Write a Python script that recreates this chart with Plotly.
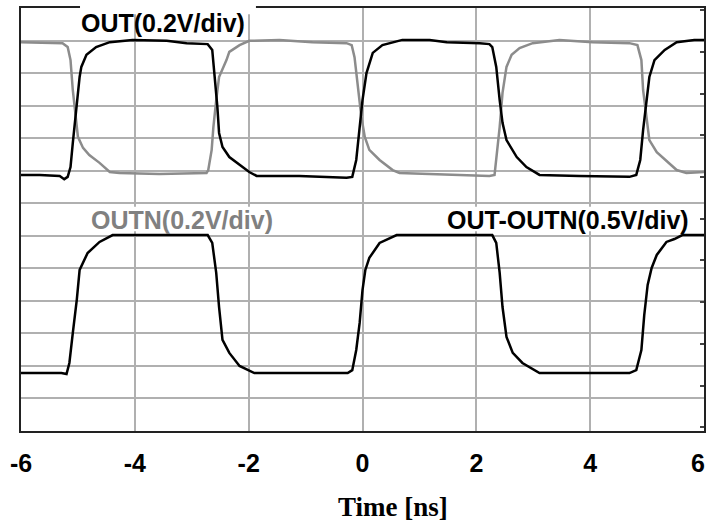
import plotly.graph_objects as go

# Time axis in ns, vertical position in screen divisions (0 = bottom edge, 13 = top edge)

# OUT (upper trace, black)
out_t = [-6.0, -5.67, -5.32, -5.24, -5.18, -5.13, -5.09, -5.04, -5.00, -4.97, -4.94, -4.85,
         -4.68, -4.44, -4.04, -3.44, -3.09, -2.72, -2.64, -2.58, -2.55, -2.52, -2.46, -2.34,
         -2.16, -1.99, -1.86, -1.11, -0.28, -0.18, -0.11, -0.05, 0.00, 0.07, 0.18, 0.35,
         0.70, 1.18, 1.48, 2.06, 2.23, 2.28, 2.35, 2.41, 2.46, 2.53, 2.71, 2.88, 3.11,
         3.81, 4.69, 4.81, 4.88, 4.93, 4.99, 5.04, 5.13, 5.31, 5.52, 5.83, 6.0]
out_v = [7.87, 7.87, 7.84, 7.74, 7.81, 8.11, 8.85, 9.77, 10.33, 10.88, 11.19, 11.56,
         11.80, 11.95, 12.02, 11.99, 11.92, 11.89, 11.71, 10.69, 9.96, 9.16, 8.73, 8.42,
         8.17, 7.96, 7.84, 7.84, 7.78, 7.81, 8.33, 9.34, 10.17, 11.00, 11.62, 11.86,
         12.02, 12.02, 11.95, 11.92, 11.89, 11.80, 11.19, 10.17, 9.47, 8.94, 8.42, 8.11, 7.87,
         7.84, 7.81, 7.87, 8.33, 9.25, 10.17, 10.88, 11.40, 11.71, 11.95, 12.02, 12.02]

# OUTN (upper trace, grey)
outn_t = [-6.0, -5.27, -5.18, -5.13, -5.09, -5.04, -5.00, -4.91, -4.80, -4.62, -4.44, -4.27,
          -3.57, -2.74, -2.71, -2.65, -2.62, -2.57, -2.52, -2.39, -2.34, -2.16, -1.99, -1.46,
          -0.88, -0.28, -0.19, -0.14, -0.09, -0.02, 0.04, 0.12, 0.30, 0.53, 0.65, 1.35,
          2.06, 2.23, 2.32, 2.35, 2.41, 2.46, 2.53, 2.62, 2.76, 2.99, 3.46, 4.04, 4.69,
          4.83, 4.90, 4.93, 4.99, 5.04, 5.17, 5.34, 5.52, 5.69, 6.0]
outn_v = [11.95, 11.92, 11.80, 11.40, 10.48, 9.56, 9.04, 8.70, 8.48, 8.24, 7.96, 7.93,
          7.90, 7.93, 8.02, 8.64, 9.34, 10.17, 10.88, 11.40, 11.65, 11.86, 11.99, 12.02,
          11.95, 11.92, 11.86, 11.49, 10.69, 9.65, 9.04, 8.64, 8.33, 8.02, 7.93, 7.90,
          7.87, 7.84, 7.87, 8.33, 9.34, 10.39, 11.19, 11.56, 11.77, 11.92, 12.02, 11.95, 11.92,
          11.86, 11.40, 10.48, 9.71, 8.94, 8.57, 8.30, 8.02, 7.93, 7.96]

# OUT-OUTN (lower trace, black)
diff_t = [-6.0, -5.29, -5.20, -5.15, -5.09, -5.02, -4.97, -4.91, -4.83, -4.62, -4.39, -3.57,
          -2.72, -2.64, -2.57, -2.52, -2.46, -2.34, -2.16, -1.90, -1.11, -0.26, -0.18, -0.11,
          -0.05, 0.00, 0.05, 0.12, 0.30, 0.60, 1.70, 2.28, 2.35, 2.41, 2.46, 2.53, 2.64,
          2.81, 3.11, 4.69, 4.81, 4.90, 4.95, 5.01, 5.08, 5.17, 5.34, 5.48, 5.62, 6.0]
diff_v = [1.78, 1.78, 1.75, 2.09, 3.01, 4.03, 4.95, 5.19, 5.47, 5.81, 6.02, 6.02,
          6.02, 5.78, 4.86, 3.81, 2.80, 2.40, 2.00, 1.78, 1.78, 1.78, 1.87, 2.49,
          3.32, 4.33, 4.95, 5.32, 5.78, 6.02, 6.02, 6.02, 5.78, 4.86, 3.81, 2.89, 2.40,
          2.09, 1.78, 1.78, 1.87, 2.49, 3.56, 4.49, 5.01, 5.41, 5.81, 5.90, 6.02, 6.02]

# axis labels; the rightmost one sits at the page edge and is placed as an annotation
x_ticks = [-6, -4, -2, 0, 2, 4]
x_ticktext = ["-6", "-4", "-2", "0", "2", "4"]
x_last_label = "6"

label_out = "OUT(0.2V/div)"
label_outn = "OUTN(0.2V/div)"
label_diff = "OUT-OUTN(0.5V/div)"
x_title = "Time [ns]"

BLACK = "#000000"
GREY = "#8c8c8c"
GRID = "#b0b0b0"
SANS = "Liberation Sans, Arial, sans-serif"
SERIF = "Liberation Serif, Times New Roman, serif"

fig = go.Figure()
fig.add_trace(go.Scatter(x=outn_t, y=outn_v, mode="lines",
                         line=dict(color=GREY, width=2.5), showlegend=False))
fig.add_trace(go.Scatter(x=out_t, y=out_v, mode="lines",
                         line=dict(color=BLACK, width=2.5), showlegend=False))
fig.add_trace(go.Scatter(x=diff_t, y=diff_v, mode="lines",
                         line=dict(color=BLACK, width=2.5), showlegend=False))
# empty trace so the right-hand tick axis is drawn
fig.add_trace(go.Scatter(x=[None], y=[None], yaxis="y2", showlegend=False))

fig.update_layout(
    width=709, height=521,
    margin=dict(l=21, r=5, t=8, b=90),
    paper_bgcolor="white", plot_bgcolor="white",
    xaxis=dict(range=[-6, 6], tickvals=x_ticks, ticktext=x_ticktext, automargin=False,
               ticklabeloverflow="allow",
               showgrid=True, gridcolor=GRID, gridwidth=1.5,
               showline=True, linecolor="#222222", linewidth=2, mirror=True,
               ticks="", ticklabelstandoff=9, zeroline=False,
               tickfont=dict(family=SANS, size=25, color=BLACK, weight="bold")),
    yaxis=dict(range=[0, 13], dtick=1, showgrid=True, gridcolor=GRID, gridwidth=1.5,
               showline=True, linecolor="#222222", linewidth=2, mirror=True, automargin=False,
               showticklabels=False, ticks="", zeroline=False),
    yaxis2=dict(overlaying="y", side="right", range=[-0.089, 10.055], dtick=1, automargin=False,
                showgrid=False, zeroline=False, showline=False, showticklabels=False,
                ticks="inside", ticklen=4, tickwidth=1.5, tickcolor="#444444"),
)

# gap in the top frame behind the OUT label, and backings for the lower labels
fig.add_shape(type="rect", xref="paper", yref="paper", x0=0.0864, x1=0.344, y0=0.985, y1=1.03,
              fillcolor="white", line=dict(width=0), layer="above")
fig.add_shape(type="rect", xref="paper", yref="paper", x0=0.098, x1=0.373, y0=0.472, y1=0.530,
              fillcolor="white", line=dict(width=0), layer="above")
fig.add_shape(type="rect", xref="paper", yref="paper", x0=0.619, x1=0.985, y0=0.472, y1=0.530,
              fillcolor="white", line=dict(width=0), layer="above")

fig.add_annotation(text=x_last_label, xref="paper", yref="paper", x=1.003, y=-0.0757,
                   xanchor="right", yanchor="middle", showarrow=False, borderpad=0,
                   font=dict(family=SANS, size=25, color=BLACK, weight="bold"))
fig.add_annotation(text=label_out, xref="paper", yref="paper", x=0.2086, y=0.9657,
                   xanchor="center", yanchor="middle", showarrow=False,
                   font=dict(family=SANS, size=25, color=BLACK, weight="bold"))
fig.add_annotation(text=label_outn, xref="paper", yref="paper", x=0.235, y=0.4988,
                   xanchor="center", yanchor="middle", showarrow=False,
                   font=dict(family=SANS, size=25, color="#808080", weight="bold"))
fig.add_annotation(text=label_diff, xref="paper", yref="paper", x=0.8016, y=0.4988,
                   xanchor="center", yanchor="middle", showarrow=False,
                   font=dict(family=SANS, size=25, color=BLACK, weight="bold"))
fig.add_annotation(text=x_title, xref="paper", yref="paper", x=0.5447, y=-0.1797,
                   xanchor="center", yanchor="middle", showarrow=False,
                   font=dict(family=SERIF, size=27, color=BLACK, weight="bold"))

fig.write_html("out.html")
